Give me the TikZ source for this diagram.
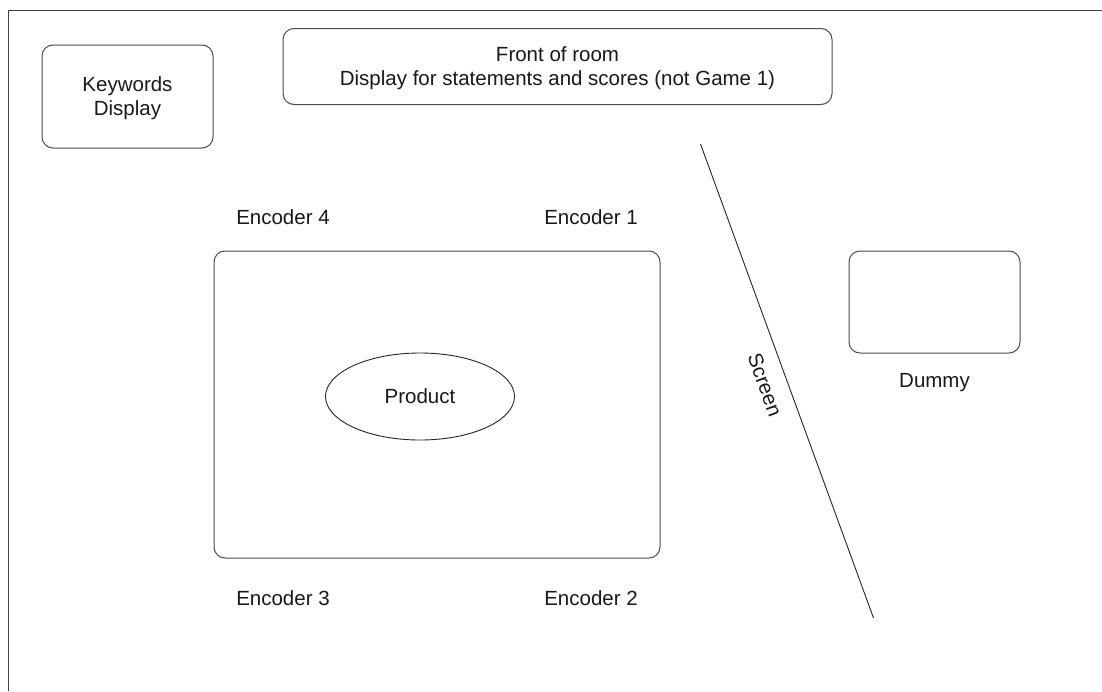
\documentclass[tikz,border=0pt]{standalone}
\usepackage{fontspec}
\setmainfont{Liberation Sans}
\usetikzlibrary{shapes.geometric}
\begin{document}
\begin{tikzpicture}[x=1pt,y=-1pt,
  every node/.style={font=\fontsize{20.5}{24}\selectfont, text=black!90, align=center, inner sep=0pt},
  box/.style={draw=black!70, line width=1pt, rounded corners=11pt, rectangle},
  lbl/.style={},
  ln/.style={draw=black!85, line width=0.9pt}]
\useasboundingbox (0,0) rectangle (1102,691);
\fill[white] (0,0) rectangle (1102,691);
\coordinate (fbl) at (8.5,691);
\coordinate (ftl) at (8.5,10.5);
\coordinate (ftr) at (1102,10.5);
\draw[ln, draw=black!75] (fbl) -- (ftl) -- (ftr);
\node[box, text depth=0pt, minimum width=171pt, minimum height=103pt] (kw) at (127.5,96.5) {Keywords\\Display};
\node[box, text depth=0pt, minimum width=549pt, minimum height=76pt] (front) at (557.5,66.5) {Front of room\\Display for statements and scores (not Game 1)};
\node[box, minimum width=446pt, minimum height=307pt] (table) at (437,404.5) {};
\node[draw=black!85, line width=0.9pt, ellipse, minimum width=189pt, minimum height=87pt] (prod) at (420,396.5) {Product};
\node[box, minimum width=171pt, minimum height=102pt] (dummy) at (934.5,302) {};
\node[lbl] (dlbl) at (934.5,383) {Dummy};
\node[lbl] (e4) at (283,217) {Encoder 4};
\node[lbl] (e1) at (591,217) {Encoder 1};
\node[lbl] (e3) at (283,598) {Encoder 3};
\node[lbl] (e2) at (591,598) {Encoder 2};
\coordinate (s1) at (700.5,144);
\coordinate (s2) at (873.5,618);
\draw[ln] (s1) -- (s2);
\node[lbl, rotate=-70] (scr) at (765,385) {Screen};
\end{tikzpicture}
\end{document}
